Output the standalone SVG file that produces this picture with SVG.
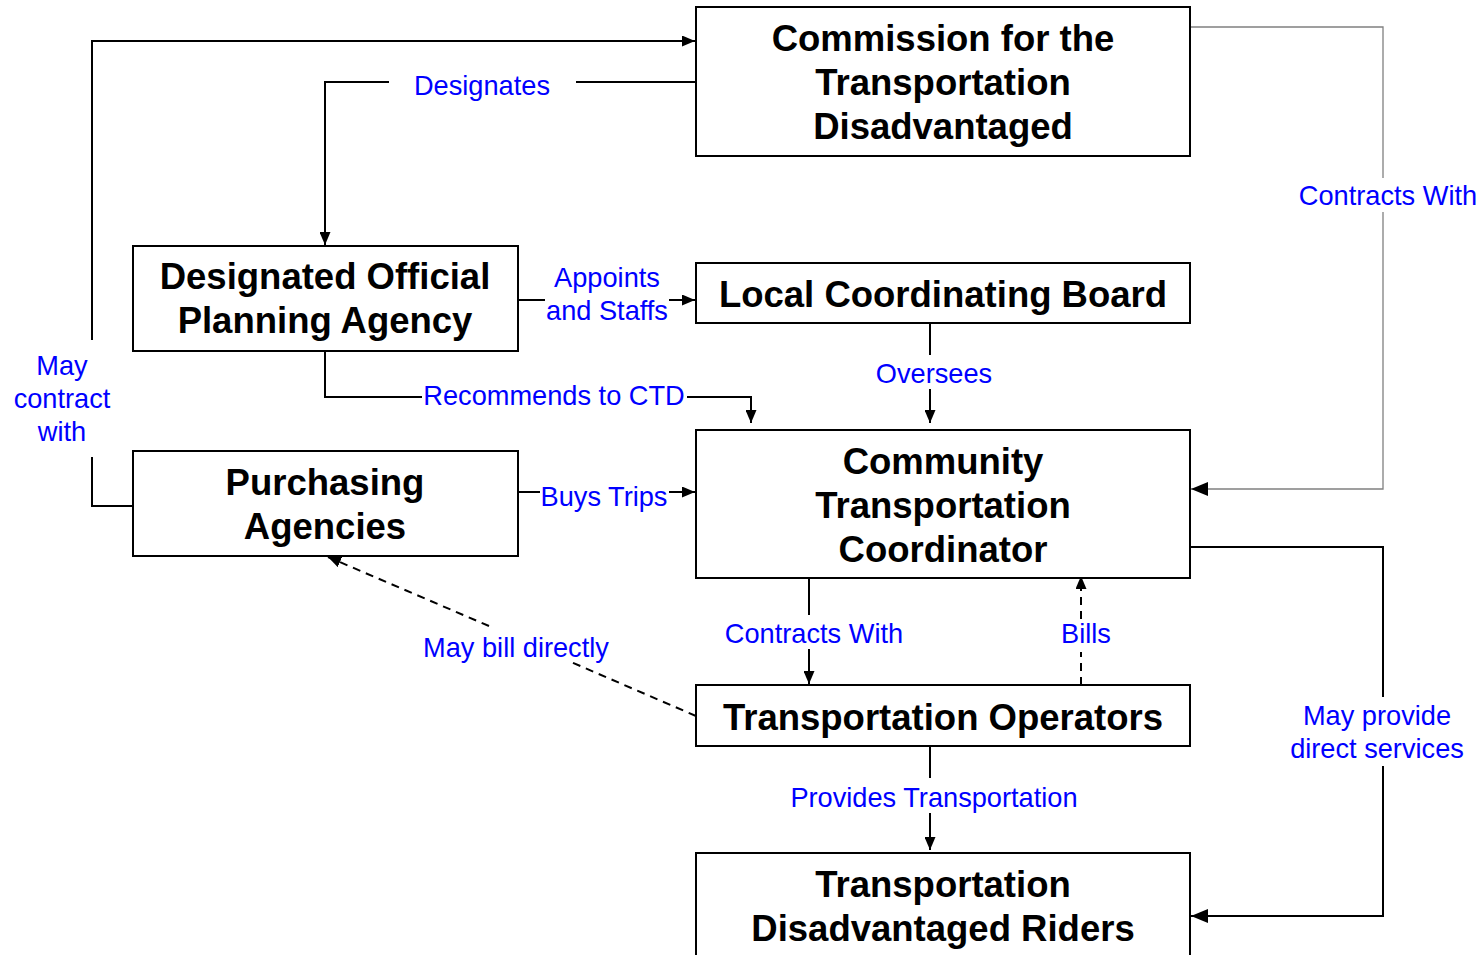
<svg xmlns="http://www.w3.org/2000/svg" width="1484" height="955" viewBox="0 0 1484 955">
<style>
.box{fill:#fff;stroke:#000;stroke-width:2}
.nt{font-family:"Liberation Sans",Arial,sans-serif;font-weight:bold;font-size:36.5px;fill:#000;text-anchor:middle}
.lb{font-family:"Liberation Sans",Arial,sans-serif;font-size:27.2px;fill:#0000ff;text-anchor:middle}
.c{fill:none;stroke:#000;stroke-width:2}
.d{fill:none;stroke:#000;stroke-width:2;stroke-dasharray:8,6}
.g{fill:none;stroke:#808080;stroke-width:1.3}
</style>
<defs>
<marker id="ah" viewBox="0 0 13 11" refX="13" refY="5.5" markerWidth="13" markerHeight="11" markerUnits="userSpaceOnUse" orient="auto"><path d="M0,0 L13,5.5 L0,11 z" fill="#000"/></marker>
<marker id="ahb" viewBox="0 0 17 14" refX="17" refY="7" markerWidth="17" markerHeight="14" markerUnits="userSpaceOnUse" orient="auto"><path d="M0,0 L17,7 L0,14 z" fill="#000"/></marker>
</defs>
<rect width="1484" height="955" fill="#fff"/>
<g id="connectors">
<polyline class="c" points="133,506 92,506 92,457"/>
<polyline class="c" points="92,340 92,41 695,41" marker-end="url(#ah)"/>
<line class="c" x1="696" y1="82" x2="576" y2="82"/>
<polyline class="c" points="389,82 325,82 325,245" marker-end="url(#ah)"/>
<line class="c" x1="518" y1="300" x2="545" y2="300"/>
<line class="c" x1="669" y1="300" x2="695" y2="300" marker-end="url(#ah)"/>
<polyline class="c" points="325,351 325,397 422,397"/>
<polyline class="c" points="687,397 751,397 751,423" marker-end="url(#ah)"/>
<line class="c" x1="930" y1="323" x2="930" y2="355"/>
<line class="c" x1="930" y1="389" x2="930" y2="423" marker-end="url(#ah)"/>
<polyline class="g" points="1190,27 1383,27 1383,178"/>
<polyline class="g" points="1383,212 1383,489 1191,489" marker-end="url(#ahb)"/>
<line class="c" x1="518" y1="492" x2="540" y2="492"/>
<line class="c" x1="669" y1="492" x2="695" y2="492" marker-end="url(#ah)"/>
<polyline class="c" points="1190,547 1383,547 1383,697"/>
<polyline class="c" points="1383,766 1383,916 1191,916" marker-end="url(#ahb)"/>
<line class="c" x1="809" y1="579" x2="809" y2="615"/>
<line class="c" x1="809" y1="649" x2="809" y2="684" marker-end="url(#ah)"/>
<line class="d" x1="1081" y1="685" x2="1081" y2="652"/>
<line class="d" x1="1081" y1="619" x2="1081" y2="576" marker-end="url(#ah)"/>
<line class="c" x1="930" y1="746" x2="930" y2="778"/>
<line class="c" x1="930" y1="813" x2="930" y2="850" marker-end="url(#ah)"/>
<line class="d" x1="696" y1="716" x2="571" y2="662"/>
<line class="d" x1="489" y1="626" x2="328" y2="557" marker-end="url(#ah)"/>
</g>
<g id="labels">
<text class="lb" x="62" y="375">May</text>
<text class="lb" x="62" y="408">contract</text>
<text class="lb" x="62" y="441">with</text>
<text class="lb" x="482" y="95">Designates</text>
<text class="lb" x="607" y="287">Appoints</text>
<text class="lb" x="607" y="320">and Staffs</text>
<text class="lb" x="554" y="405">Recommends to CTD</text>
<text class="lb" x="934" y="383">Oversees</text>
<text class="lb" x="1388" y="205">Contracts With</text>
<text class="lb" x="604" y="506">Buys Trips</text>
<text class="lb" x="1377" y="725">May provide</text>
<text class="lb" x="1377" y="758">direct services</text>
<text class="lb" x="814" y="643">Contracts With</text>
<text class="lb" x="1086" y="643">Bills</text>
<text class="lb" x="934" y="807">Provides Transportation</text>
<text class="lb" x="516" y="657">May bill directly</text>
</g>
<g id="ctd">
<rect class="box" x="696" y="7" width="494" height="149"/>
<text class="nt" x="943" y="51">Commission for the</text>
<text class="nt" x="943" y="95">Transportation</text>
<text class="nt" x="943" y="139">Disadvantaged</text>
</g>
<g id="dopa">
<rect class="box" x="133" y="246" width="385" height="105"/>
<text class="nt" x="325" y="289">Designated Official</text>
<text class="nt" x="325" y="333">Planning Agency</text>
</g>
<g id="lcb">
<rect class="box" x="696" y="263" width="494" height="60"/>
<text class="nt" x="943" y="307">Local Coordinating Board</text>
</g>
<g id="pa">
<rect class="box" x="133" y="451" width="385" height="105"/>
<text class="nt" x="325" y="495">Purchasing</text>
<text class="nt" x="325" y="539">Agencies</text>
</g>
<g id="ctc">
<rect class="box" x="696" y="430" width="494" height="148"/>
<text class="nt" x="943" y="474">Community</text>
<text class="nt" x="943" y="518">Transportation</text>
<text class="nt" x="943" y="562">Coordinator</text>
</g>
<g id="to">
<rect class="box" x="696" y="685" width="494" height="61"/>
<text class="nt" x="943" y="730">Transportation Operators</text>
</g>
<g id="tdr">
<rect class="box" x="696" y="853" width="494" height="140"/>
<text class="nt" x="943" y="897">Transportation</text>
<text class="nt" x="943" y="941">Disadvantaged Riders</text>
</g>
</svg>
